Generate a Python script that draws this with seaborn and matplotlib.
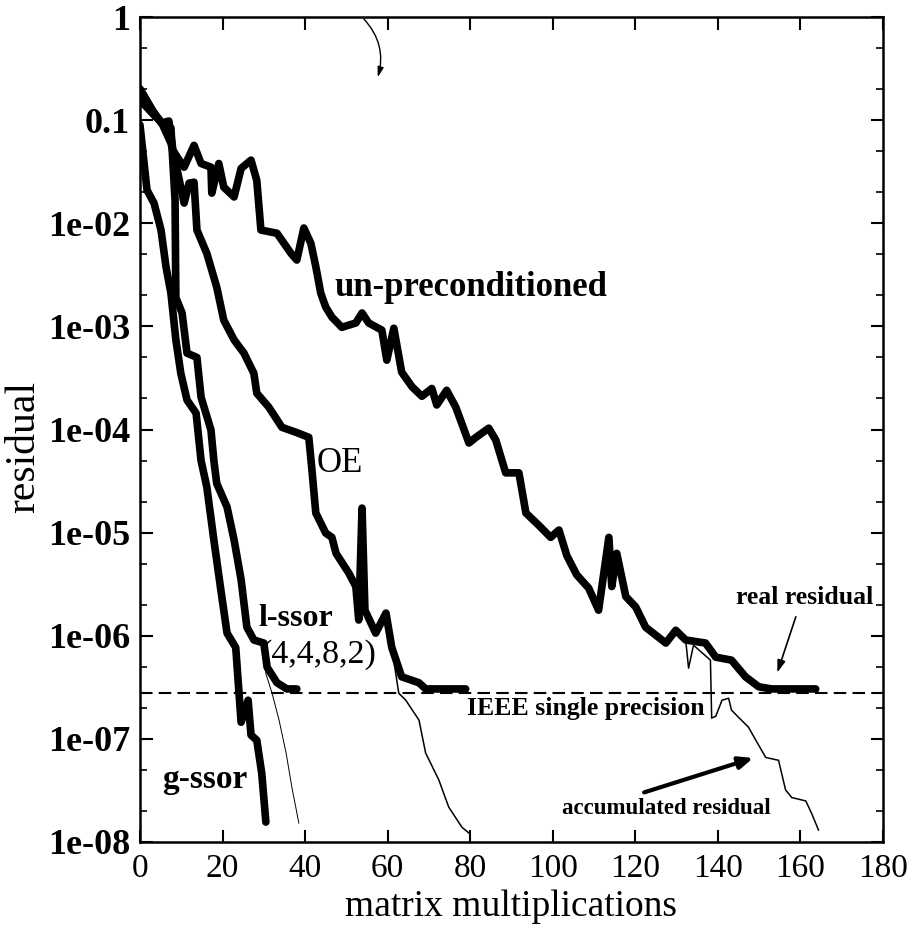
import matplotlib
matplotlib.use("Agg")
import matplotlib.pyplot as plt
import numpy as np
import pandas as pd
import seaborn as sns
from matplotlib.ticker import FixedLocator, NullFormatter

# Residual histories (matrix multiplications vs. residual norm)
unprec_x = [0, 3.4, 5.3, 7.0, 8.0, 9.0, 10.7, 13.1, 14.8, 17.2, 17.4, 19.1, 20.3, 22.8,
            24.5, 26.9, 28.3, 29.3, 33.2, 36.6, 38.0, 39.7, 41.4, 42.6, 43.8, 45.0, 46.5,
            48.9, 52.3, 53.8, 55.4, 58.6, 59.8, 61.5, 63.4, 65.9, 68.3, 70.7, 71.9, 74.3,
            76.5, 79.7, 81.4, 84.5, 86.2, 87.7, 88.6, 91.8, 93.5, 96.6, 99.5, 101.5, 103.4,
            105.8, 108.7, 111.1, 113.6, 114.3, 115.5, 117.7, 120.1, 122.5, 127.4, 129.8,
            132.2, 137.0, 139.5, 143.3, 146.7, 149.9, 153.0, 163.7]
unprec_res = [2.0e-1, 1.17e-1, 9.4e-2, 9.8e-2, 5.1e-2, 4.4e-2, 3.5e-2, 5.7e-2, 3.8e-2, 3.5e-2,
              1.96e-2, 3.8e-2, 2.24e-2, 1.8e-2, 3.4e-2, 4.1e-2, 2.6e-2, 8.6e-3, 8.0e-3, 5.1e-3,
              4.4e-3, 9.0e-3, 6.4e-3, 3.8e-3, 2.1e-3, 1.54e-3, 1.23e-3, 9.8e-4, 1.08e-3, 1.35e-3,
              1.08e-3, 9.2e-4, 4.7e-4, 9.6e-4, 3.6e-4, 2.6e-4, 2.1e-4, 2.5e-4, 1.73e-4, 2.4e-4,
              1.65e-4, 7.4e-5, 8.4e-5, 1.03e-4, 7.9e-5, 5.0e-5, 3.8e-5, 3.8e-5, 1.55e-5, 1.18e-5,
              9.0e-6, 1.06e-5, 6.0e-6, 3.9e-6, 2.9e-6, 1.77e-6, 9.0e-6, 3.0e-6, 6.3e-6, 2.4e-6,
              1.9e-6, 1.21e-6, 8.5e-7, 1.13e-6, 9.1e-7, 8.5e-7, 6.2e-7, 5.8e-7, 4.0e-7, 3.2e-7,
              3.05e-7, 3.05e-7]
unprec_acc_x = [129.8, 132.2, 132.9, 134.1, 138.2, 138.5, 139.5, 141.0, 142.6, 143.3, 145.0,
                147.4, 149.2, 151.6, 154.7, 156.4, 157.9, 161.3, 162.7, 164.4]
unprec_acc_res = [1.13e-6, 9.1e-7, 4.85e-7, 8.1e-7, 5.8e-7, 1.59e-7, 1.66e-7, 2.37e-7, 2.48e-7,
                  1.9e-7, 1.62e-7, 1.3e-7, 9.7e-8, 6.6e-8, 6.2e-8, 3.2e-8, 2.7e-8, 2.5e-8,
                  1.9e-8, 1.3e-8]

oe_x = [0, 3.0, 5.5, 7.5, 9.0, 10.7, 11.9, 13.1, 13.8, 16.2, 18.6, 20.3, 22.8, 25.2, 27.6,
        28.3, 31.2, 34.4, 37.8, 40.9, 41.6, 42.6, 45.0, 46.5, 47.5, 50.6, 52.3, 53.0, 53.8,
        54.5, 57.1, 59.6, 61.0, 63.4, 67.6, 69.2, 78.9]
oe_res = [2.0e-1, 1.25e-1, 9.0e-2, 6.0e-2, 3.3e-2, 1.57e-2, 2.45e-2, 2.5e-2, 8.6e-3, 5.1e-3,
          2.4e-3, 1.15e-3, 7.4e-4, 5.5e-4, 3.5e-4, 2.25e-4, 1.65e-4, 1.05e-4, 9.4e-5, 8.4e-5,
          4.3e-5, 1.55e-5, 9.9e-6, 9.0e-6, 6.3e-6, 4.05e-6, 3.0e-6, 1.42e-6, 1.73e-5, 1.77e-6,
          1.06e-6, 1.66e-6, 7.7e-7, 4.0e-7, 3.5e-7, 3.05e-7, 3.05e-7]
oe_acc_x = [61.0, 62.7, 64.4, 67.6, 69.2, 72.4, 74.8, 78.0, 79.7]
oe_acc_res = [7.7e-7, 2.77e-7, 2.37e-7, 1.52e-7, 7.3e-8, 4.0e-8, 2.18e-8, 1.39e-8, 1.22e-8]

lssor_x = [0, 3.4, 5.8, 7.5, 8.5, 8.7, 10.2, 11.4, 13.8, 14.8, 17.2, 17.9, 18.6, 21.1, 22.8,
           24.5, 25.9, 27.6, 30.0, 30.8, 33.2, 35.6, 38.0]
lssor_res = [1.57e-1, 1.12e-1, 9.0e-2, 8.4e-2, 1.68e-2, 1.9e-3, 1.35e-3, 5.5e-4, 5.0e-4, 2.06e-4,
             9.9e-5, 5.0e-5, 3.0e-5, 1.77e-5, 8.5e-6, 3.5e-6, 1.21e-6, 9.1e-7, 8.5e-7, 4.95e-7,
             3.5e-7, 3.05e-7, 3.05e-7]
lssor_acc_x = [30.0, 30.5, 32.0, 33.7, 35.4, 36.8, 38.5]
lssor_acc_res = [8.5e-7, 4.3e-7, 2.77e-7, 1.52e-7, 7.3e-8, 3.4e-8, 1.52e-8]

gssor_x = [0, 1.7, 3.4, 5.1, 6.3, 7.5, 8.7, 9.9, 11.4, 13.6, 14.8, 16.2, 17.9, 19.6, 21.1,
           23.2, 24.0, 24.5, 26.2, 26.9, 28.3, 29.5, 30.5]
gssor_res = [9.0e-2, 2.1e-2, 1.57e-2, 8.6e-3, 3.8e-3, 2.1e-3, 7.4e-4, 3.5e-4, 1.93e-4, 1.44e-4,
             5.0e-5, 2.76e-5, 8.5e-6, 2.77e-6, 1.06e-6, 7.7e-7, 2.77e-7, 1.45e-7, 2.37e-7,
             1.09e-7, 9.7e-8, 4.65e-8, 1.56e-8]

single_precision = 2.8e-7

y_ticks = [1, 1e-1, 1e-2, 1e-3, 1e-4, 1e-5, 1e-6, 1e-7, 1e-8]
y_tick_labels = ["1", "0.1", "1e-02", "1e-03", "1e-04", "1e-05", "1e-06", "1e-07", "1e-08"]
x_ticks = [0, 20, 40, 60, 80, 100, 120, 140, 160, 180]

sns.set_theme(style="ticks")
plt.rcParams["font.family"] = ["Liberation Serif", "DejaVu Serif"]
plt.rcParams.update({"text.color": "black", "axes.labelcolor": "black",
                     "xtick.color": "black", "ytick.color": "black",
                     "axes.edgecolor": "black"})

fig = plt.figure(figsize=(9.19, 9.31), dpi=100)
ax = fig.add_axes([0.1523, 0.0956, 0.8085, 0.8861])


def draw(xs, ys, lw):
    df = pd.DataFrame({"mm": xs, "res": ys})
    sns.lineplot(data=df, x="mm", y="res", ax=ax, color="black", linewidth=lw,
                 estimator=None, sort=False, legend=False)
    ax.lines[-1].set_solid_joinstyle("round")


# thin "accumulated residual" tails first, thick "real residual" curves on top
draw(unprec_acc_x, unprec_acc_res, 1.1)
draw(oe_acc_x, oe_acc_res, 1.1)
draw(lssor_acc_x, lssor_acc_res, 0.7)
draw(unprec_x, unprec_res, 5.5)
draw(oe_x, oe_res, 5.5)
draw(lssor_x, lssor_res, 5.5)
draw(gssor_x, gssor_res, 5.5)

ax.axhline(single_precision, color="black", lw=1.5, dashes=(6, 3))

ax.set_yscale("log")
ax.set_xlim(0, 180)
ax.set_ylim(1e-8, 1)
ax.xaxis.set_major_locator(FixedLocator(x_ticks))
ax.set_xticklabels([str(v) for v in x_ticks])
ax.yaxis.set_major_locator(FixedLocator(y_ticks))
ax.set_yticklabels(y_tick_labels)
minor = [m * 10.0 ** k for k in range(-8, 0) for m in (2, 5)]
ax.yaxis.set_minor_locator(FixedLocator(minor))
ax.yaxis.set_minor_formatter(NullFormatter())

ax.tick_params(which="both", direction="in", top=True, right=True, colors="black")
ax.tick_params(which="major", length=9, width=1.5)
ax.tick_params(which="minor", length=5, width=1.2)
ax.tick_params(axis="y", which="major", pad=7)
ax.tick_params(axis="x", which="major", pad=8)
for lab in ax.get_yticklabels():
    lab.set_fontsize(26)
    lab.set_fontweight("bold")
for lab in ax.get_xticklabels():
    lab.set_fontsize(24)
for s in ax.spines.values():
    s.set_linewidth(1.8)
    s.set_color("black")

ax.set_xlabel("matrix multiplications", fontsize=27, labelpad=4)
ax.set_ylabel("residual", fontsize=30)
ax.yaxis.set_label_coords(-0.13, 0.479)
ax.grid(False)

ax.text(47, 2.4e-3, "un-preconditioned", fontsize=25, fontweight="bold", va="center", ha="left")
ax.text(42.9, 4.7e-5, "OE", fontsize=25, va="center", ha="left")
ax.text(28.6, 1.48e-6, "l-ssor", fontsize=23, fontweight="bold", va="center", ha="left")
ax.text(29.3, 6.5e-7, "(4,4,8,2)", fontsize=24.5, va="center", ha="left")
ax.text(5.3, 4.0e-8, "g-ssor", fontsize=24, fontweight="bold", va="center", ha="left")
ax.text(79.2, 1.99e-7, "IEEE single precision", fontsize=18.5, fontweight="bold",
        va="center", ha="left")
ax.text(144.3, 2.37e-6, "real residual", fontsize=18.5, fontweight="bold", va="center", ha="left")
ax.text(102.2, 2.13e-8, "accumulated residual", fontsize=16.5, fontweight="bold",
        va="center", ha="left")

ax.annotate("", xy=(154.2, 4.15e-7), xytext=(159.1, 1.62e-6),
            arrowprops=dict(arrowstyle="-|>,head_length=0.6,head_width=0.2",
                            color="black", lw=1.2))
ax.annotate("", xy=(149.2, 6.65e-8), xytext=(121.5, 2.97e-8),
            arrowprops=dict(arrowstyle="-|>,head_length=0.7,head_width=0.3",
                            color="black", lw=3))
ax.annotate("", xy=(57.4, 0.245), xytext=(53.8, 1.0), annotation_clip=False,
            arrowprops=dict(arrowstyle="-|>,head_length=0.5,head_width=0.15",
                            connectionstyle="arc3,rad=-0.3", color="black", lw=1))

fig.savefig("out.png", dpi=100)
